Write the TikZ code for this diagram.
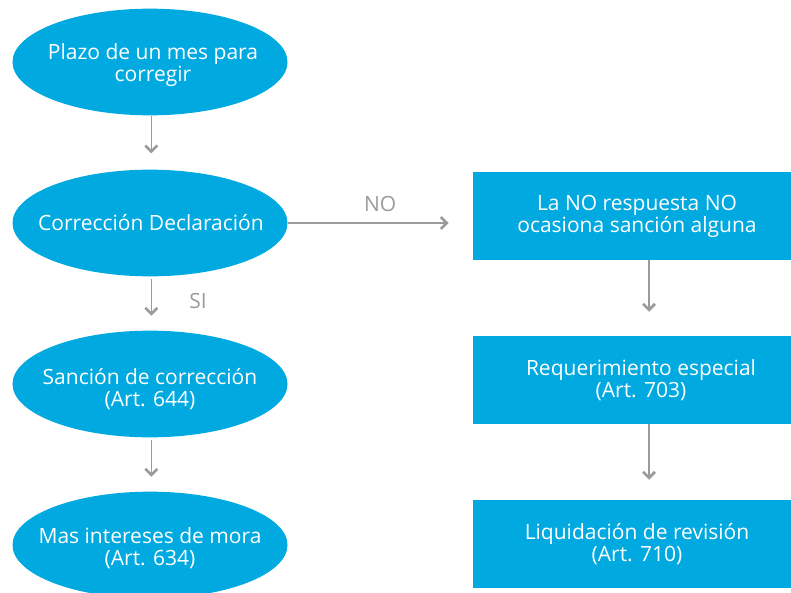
\documentclass[tikz,border=0pt]{standalone}
\usepackage{fontspec}
\setmainfont{Open Sans}
\usetikzlibrary{shapes.geometric,arrows.meta}
\definecolor{boxblue}{HTML}{00A9E0}
\definecolor{arrowgray}{HTML}{9B9B9B}
\tikzset{
  x=0.75pt, y=-0.75pt,
  txt/.style={font=\fontsize{15.75}{16.5}\selectfont, text=white, align=center, inner sep=0pt},
  oval/.style={ellipse, fill=boxblue, inner sep=0pt, minimum width=206.25pt, minimum height=80pt},
  panel/.style={txt, rectangle, fill=boxblue, minimum width=246pt, minimum height=66pt},
  flow/.style={draw=arrowgray, line width=1.2pt, -{Straight Barb[length=4.5pt,width=9pt,line width=2pt]}},
  lbl/.style={font=\fontsize{15.75}{16.5}\selectfont, text=arrowgray, inner sep=0pt}
}
\begin{document}
\begin{tikzpicture}
\useasboundingbox (0,0) rectangle (791,592);
\clip (0,0) rectangle (791,592);
\node[oval] (e1) at (150,62) {};
\node[txt] (t1) at (153,65) {Plazo de un mes para\\corregir};
\node[oval] (e2) at (150,223) {};
\node[txt] (t2) at (151,223) {Corrección Declaración};
\node[oval] (e3) at (150,384) {};
\node[txt] (t3) at (150,389) {Sanción de corrección\\(Art. 644)};
\node[oval] (e4) at (150,545) {};
\node[txt] (t4) at (150,548) {Mas intereses de mora\\(Art. 634)};
\node[panel] (r1) at (637,216) {La NO respuesta NO\\ocasiona sanción alguna};
\node[panel] (r2) at (637,380) {\hspace*{6pt}Requerimiento especial\\\hspace*{6pt}(Art. 703)};
\node[panel] (r3) at (637,544) {Liquidación de revisión\\(Art. 710)};
\draw[flow, shorten >=12] ([xshift=1]e1.south) -- ([xshift=1]e2.north);
\draw[flow, shorten >=11, shorten <=2] ([xshift=1]e2.south) -- ([xshift=1]e3.north) node[lbl, pos=0.45, right=28pt] (si) {SI};
\draw[flow, shorten >=11, shorten <=2] ([xshift=1]e3.south) -- ([xshift=1]e4.north);
\draw[flow, shorten >=18] (e2.east) -- (e2.east -| r1.west) node[lbl, midway, above=8pt] (no) {NO};
\draw[flow, shorten >=18] ([xshift=9]r1.south) -- ([xshift=9]r2.north);
\draw[flow, shorten >=15] ([xshift=9]r2.south) -- ([xshift=9]r3.north);
\end{tikzpicture}
\end{document}
